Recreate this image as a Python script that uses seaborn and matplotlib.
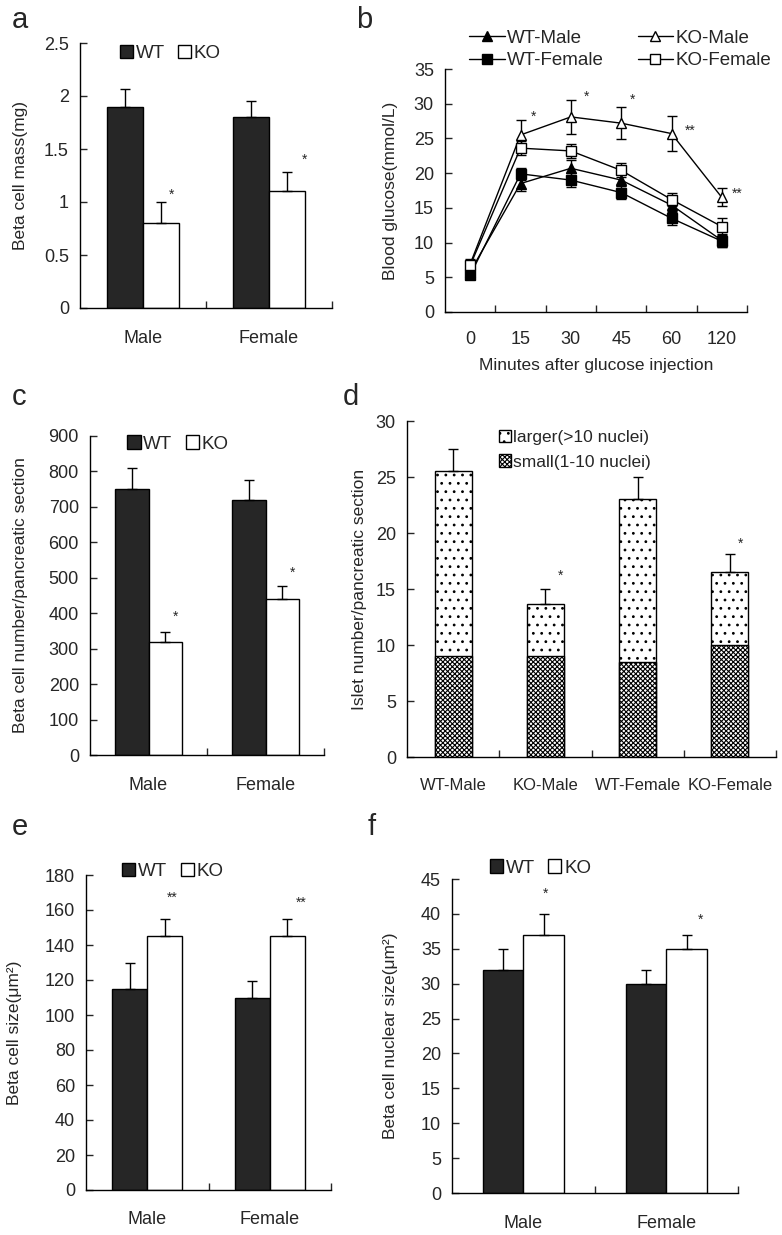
import numpy as np
import pandas as pd
import matplotlib
matplotlib.use('Agg')
import matplotlib.pyplot as plt
from matplotlib.patches import Patch
from matplotlib.lines import Line2D
from matplotlib.ticker import FuncFormatter
import seaborn as sns

sns.set_style('ticks')
plt.rcParams['font.family'] = ['Liberation Sans', 'DejaVu Sans']
plt.rcParams['hatch.linewidth'] = 0.8
plt.rcParams['axes.edgecolor'] = 'black'

W, H = 782, 1235
DARK = '#262626'

sexes = ['Male', 'Female']
genos = ['WT', 'KO']

# a: beta cell mass
mass_wt = [1.9, 1.8]
mass_ko = [0.8, 1.1]
mass_wt_err = [0.17, 0.15]
mass_ko_err = [0.2, 0.18]
mass_star_x = [0.23, 1.28]
mass_star_y = [1.07, 1.4]

# b: glucose tolerance
times = ['0', '15', '30', '45', '60', '120']
groups = ['WT-Male', 'KO-Male', 'WT-Female', 'KO-Female']
glu_wt_male = [5.8, 18.5, 20.7, 19.0, 15.4, 10.3]
glu_ko_male = [6.9, 25.5, 28.1, 27.2, 25.7, 16.5]
glu_wt_female = [5.3, 19.9, 19.0, 17.2, 13.5, 10.2]
glu_ko_female = [6.7, 23.6, 23.2, 20.4, 16.2, 12.3]
err_wt_male = [0.7, 1.0, 1.2, 0.9, 0.9, 0.9]
err_ko_male = [0.8, 2.2, 2.4, 2.3, 2.5, 1.3]
err_wt_female = [0.6, 0.9, 1.0, 0.9, 0.9, 0.8]
err_ko_female = [0.7, 1.0, 1.0, 1.0, 1.0, 1.2]
glu_star_x = [1.25, 2.32, 3.23, 4.37, 5.3]
glu_star_y = [28.1, 31.0, 30.5, 26.1, 17.0]
glu_star_txt = ['*', '*', '*', '**', '**']

# c: beta cell number
num_wt = [750, 720]
num_ko = [320, 440]
num_wt_err = [60, 57]
num_ko_err = [28, 37]
num_star_x = [0.235, 1.235]
num_star_y = [390, 515]

# d: islet number
islet_groups = ['WT-Male', 'KO-Male', 'WT-Female', 'KO-Female']
islet_small = [9.0, 9.0, 8.5, 10.0]
islet_larger = [16.5, 4.7, 14.5, 6.5]
islet_err = [2.0, 1.3, 2.0, 1.6]
islet_star_x = [1.16, 3.11]
islet_star_y = [16.2, 19.0]

# e: beta cell size
size_wt = [115, 110]
size_ko = [145, 145]
size_wt_err = [15, 9.5]
size_ko_err = [10, 10]
size_star_x = [0.2, 1.26]
size_star_y = [167, 164]

# f: nuclear size
nuc_wt = [32, 30]
nuc_ko = [37, 35]
nuc_wt_err = [3, 2]
nuc_ko_err = [3, 2]
nuc_star_x = [0.157, 1.24]
nuc_star_y = [42.9, 39.2]


def make_ax(fig, l, t, r, b):
    return fig.add_axes([l / W, 1 - b / H, (r - l) / W, (b - t) / H])


def style(ax, n_cat, ymax, ystep, ylabel, label_x, pad, xsize=13):
    ax.set_xlim(-0.5, n_cat - 0.5)
    ax.set_ylim(0, ymax)
    ax.set_yticks(np.arange(0, ymax + ystep / 2, ystep))
    ax.yaxis.set_major_formatter(FuncFormatter(lambda v, p: f'{v:g}'))
    ax.set_xticks(np.arange(0.5, n_cat), minor=True)
    ax.tick_params(axis='x', which='major', length=0, pad=pad, labelsize=xsize)
    ax.tick_params(axis='x', which='minor', direction='in', length=5, width=1)
    ax.tick_params(axis='y', direction='in', length=5, width=1, pad=8, labelsize=13)
    sns.despine(ax=ax)
    for s in ['left', 'bottom']:
        ax.spines[s].set_linewidth(1)
    ax.set_xlabel('')
    ax.set_ylabel(ylabel, fontsize=12.5)
    ax.yaxis.set_label_coords(label_x, 0.5)


def wt_ko_legend(ax, x, y):
    handles = [Patch(fc=DARK, ec='black'), Patch(fc='white', ec='black')]
    ax.legend(handles, genos, ncol=2, frameon=False, loc='center left',
              bbox_to_anchor=(x, y), handlelength=0.7, handleheight=0.7,
              handletextpad=0.15, columnspacing=0.7, fontsize=13.5, borderpad=0)


def genotype_bars(ax, wt, ko, wt_err, ko_err, star_x, star_y, star_txt):
    df = pd.DataFrame({'sex': sexes * 2, 'geno': ['WT'] * 2 + ['KO'] * 2, 'val': wt + ko})
    sns.barplot(data=df, x='sex', y='val', hue='geno', order=sexes, hue_order=genos,
                palette={'WT': DARK, 'KO': 'white'}, edgecolor='black', linewidth=1,
                width=0.57, errorbar=None, legend=False, saturation=1, ax=ax)
    xs = [p.get_x() + p.get_width() / 2 for p in ax.patches]
    hs = [p.get_height() for p in ax.patches]
    errs = wt_err + ko_err
    ax.errorbar(xs, hs, yerr=[np.zeros(len(errs)), errs], fmt='none', ecolor='black',
                elinewidth=1, capsize=3.5, capthick=1)
    for x, y in zip(star_x, star_y):
        ax.text(x, y, star_txt, ha='center', va='center', fontsize=10)


fig = plt.figure(figsize=(W / 100, H / 100), dpi=100)

# ---- a
ax_a = make_ax(fig, 80, 43, 332, 308)
genotype_bars(ax_a, mass_wt, mass_ko, mass_wt_err, mass_ko_err, mass_star_x, mass_star_y, '*')
style(ax_a, 2, 2.5, 0.5, 'Beta cell mass(mg)', -0.206, 16)
wt_ko_legend(ax_a, 0.12, 0.96)

# ---- b
ax_b = make_ax(fig, 445, 69, 747, 312)
glu = pd.DataFrame({
    'time': times * 4,
    'group': np.repeat(groups, len(times)),
    'glucose': glu_wt_male + glu_ko_male + glu_wt_female + glu_ko_female,
})
errs_b = [err_wt_male, err_ko_male, err_wt_female, err_ko_female]
means_b = [glu_wt_male, glu_ko_male, glu_wt_female, glu_ko_female]
sns.pointplot(data=glu, x='time', y='glucose', hue='group', order=times, hue_order=groups,
              palette=['black'] * 4, markers=['^', '^', 's', 's'], linestyles='-',
              errorbar=None, legend=False, linewidth=1, markersize=6.5,
              markeredgewidth=1, ax=ax_b)
for i, ln in enumerate(ax_b.lines[:4]):
    ln.set_zorder(3)
    if groups[i].startswith('KO'):
        ln.set_markerfacecolor('white')
for m, e in zip(means_b, errs_b):
    ax_b.errorbar(np.arange(len(times)), m, yerr=e, fmt='none', ecolor='black',
                  elinewidth=1, capsize=3.5, capthick=1, zorder=2)
for x, y, t in zip(glu_star_x, glu_star_y, glu_star_txt):
    ax_b.text(x, y, t, ha='center', va='center', fontsize=10)
style(ax_b, len(times), 35, 5, 'Blood glucose(mmol/L)', -0.156, 14)
ax_b.set_xlabel('Minutes after glucose injection', fontsize=12.5, labelpad=7)
leg_handles = []
for g in ['WT-Male', 'WT-Female', 'KO-Male', 'KO-Female']:
    leg_handles.append(Line2D([], [], color='black', lw=1,
                              marker='s' if 'Female' in g else '^',
                              markersize=6.5,
                              markerfacecolor='black' if g.startswith('WT') else 'white'))
ax_b.legend(leg_handles, ['WT-Male', 'WT-Female', 'KO-Male', 'KO-Female'], ncol=2,
            frameon=False, loc='lower left', bbox_to_anchor=(0.05, 0.96),
            handlelength=1.9, handletextpad=0.1, columnspacing=1.8, labelspacing=0.3,
            fontsize=13.5, borderpad=0)

# ---- c
ax_c = make_ax(fig, 90, 436, 324, 755)
genotype_bars(ax_c, num_wt, num_ko, num_wt_err, num_ko_err, num_star_x, num_star_y, '*')
style(ax_c, 2, 900, 100, 'Beta cell number/pancreatic section', -0.265, 16)
wt_ko_legend(ax_c, 0.12, 0.975)

# ---- d
ax_d = make_ax(fig, 407, 421, 776, 757)
isl = pd.DataFrame({'group': islet_groups, 'small': islet_small,
                    'total': np.add(islet_small, islet_larger)})
sns.barplot(data=isl, x='group', y='total', order=islet_groups, color='white',
            edgecolor='black', linewidth=1, hatch='..', width=0.4, errorbar=None,
            saturation=1, ax=ax_d)
n_tot = len(ax_d.patches)
sns.barplot(data=isl, x='group', y='small', order=islet_groups, color='white',
            edgecolor='black', linewidth=1, hatch='xxxxxxx', width=0.4, errorbar=None,
            saturation=1, ax=ax_d)
tot_bars = ax_d.patches[:n_tot]
ax_d.errorbar([p.get_x() + p.get_width() / 2 for p in tot_bars],
              [p.get_height() for p in tot_bars],
              yerr=[np.zeros(n_tot), islet_err], fmt='none', ecolor='black',
              elinewidth=1, capsize=3.5, capthick=1)
for x, y in zip(islet_star_x, islet_star_y):
    ax_d.text(x, y, '*', ha='center', va='center', fontsize=10)
style(ax_d, 4, 30, 5, 'Islet number/pancreatic section', -0.108, 15, xsize=12)
d_handles = [Patch(fc='white', ec='black', hatch='..'),
             Patch(fc='white', ec='black', hatch='xxxxxxx')]
ax_d.legend(d_handles, ['larger(>10 nuclei)', 'small(1-10 nuclei)'], frameon=False,
            loc='upper left', bbox_to_anchor=(0.225, 1.0), handlelength=0.7,
            handleheight=0.7, handletextpad=0.15, labelspacing=0.55, fontsize=12.5,
            borderpad=0)

# ---- e
ax_e = make_ax(fig, 86, 875, 331, 1190)
genotype_bars(ax_e, size_wt, size_ko, size_wt_err, size_ko_err, size_star_x, size_star_y, '**')
style(ax_e, 2, 180, 20, 'Beta cell size(μm²)', -0.26, 15)
wt_ko_legend(ax_e, 0.11, 1.01)

# ---- f
ax_f = make_ax(fig, 452, 879, 738, 1193)
genotype_bars(ax_f, nuc_wt, nuc_ko, nuc_wt_err, nuc_ko_err, nuc_star_x, nuc_star_y, '*')
style(ax_f, 2, 45, 5, 'Beta cell nuclear size(μm²)', -0.19, 16)
wt_ko_legend(ax_f, 0.1, 1.035)

for letter, x, y in [('a', 12, 20), ('b', 356, 20), ('c', 12, 397), ('d', 343, 397),
                     ('e', 12, 827), ('f', 368, 827)]:
    fig.text(x / W, 1 - y / H, letter, fontsize=21, ha='left', va='center')

fig.savefig('out.png', dpi=100)
